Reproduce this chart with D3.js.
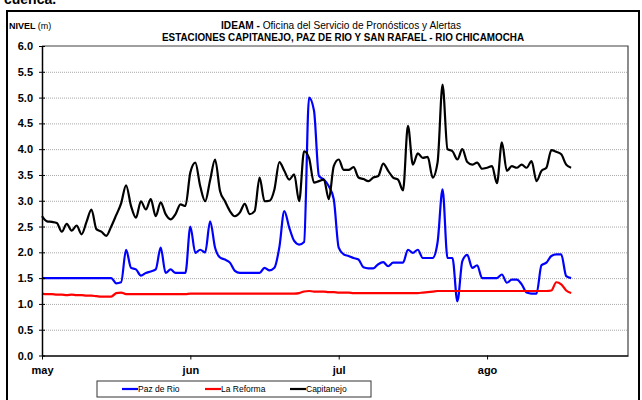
<!DOCTYPE html>
<html>
<head>
<meta charset="utf-8">
<script src="https://cdn.jsdelivr.net/npm/d3@7"></script>
<style>
    body { margin: 0; background: #fff; }
    svg { display: block; font-family: "Liberation Sans Narrow", "Arial Narrow", "Liberation Sans", Arial, sans-serif; }
</style>
</head>
<body>
<svg id="chart" width="642" height="400"></svg>
<script>
// daily levels (m), day 0 = 1 may
const pazDeRio = [
    1.5, 1.5, 1.5, 1.5, 1.5, 1.5, 1.5, 1.5, 1.5, 1.5, 1.5, 1.5, 1.5, 1.5, 1.5,
    1.4, 1.42, 2.05, 1.7, 1.67,
    1.55, 1.6, 1.63, 1.67, 2.09, 1.6, 1.67, 1.6, 1.6, 1.6,
    2.5, 1.99, 2.05, 2.0, 2.6, 2.09, 1.9, 1.86, 1.8, 1.64,
    1.6, 1.6, 1.6, 1.6, 1.6, 1.7, 1.65, 1.7, 2.1, 2.8,
    2.48, 2.22, 2.15, 2.2, 5.0, 4.75, 3.48, 3.41, 3.28, 3.03,
    2.09, 1.96, 1.93, 1.89, 1.86, 1.71, 1.69, 1.69, 1.77, 1.81,
    1.73, 1.8, 1.8, 1.8, 2.05, 1.99, 2.05, 1.89, 1.89, 1.89,
    2.2, 3.22, 1.89, 1.89, 1.05, 1.83, 1.95, 1.7, 1.75, 1.5,
    1.5, 1.5, 1.5, 1.57, 1.41, 1.47, 1.47, 1.38, 1.22, 1.2,
    1.2, 1.75, 1.8, 1.93, 1.96, 1.96, 1.54, 1.5
];
const laReforma = [
    1.2, 1.19, 1.19, 1.18, 1.18, 1.17, 1.18, 1.17, 1.17, 1.16,
    1.16, 1.15, 1.14, 1.14, 1.14, 1.21, 1.22, 1.19, 1.19, 1.19,
    1.19, 1.19, 1.19, 1.19, 1.19, 1.19, 1.19, 1.19, 1.19, 1.19,
    1.2, 1.2, 1.2, 1.2, 1.2, 1.2, 1.2, 1.2, 1.2, 1.2,
    1.2, 1.2, 1.2, 1.2, 1.2, 1.2, 1.2, 1.2, 1.2, 1.2,
    1.2, 1.2, 1.21, 1.24, 1.25, 1.24, 1.24, 1.24, 1.23, 1.23,
    1.22, 1.22, 1.22, 1.21, 1.21, 1.21, 1.21, 1.21, 1.21, 1.21,
    1.21, 1.21, 1.21, 1.21, 1.21, 1.21, 1.21, 1.22, 1.23, 1.24,
    1.25, 1.25, 1.25, 1.25, 1.25, 1.25, 1.25, 1.25, 1.25, 1.25,
    1.25, 1.25, 1.25, 1.25, 1.25, 1.25, 1.25, 1.25, 1.25, 1.25,
    1.25, 1.25, 1.25, 1.26, 1.42, 1.38, 1.26, 1.21
];
const capitanejo = [
    2.7, 2.6, 2.59, 2.57, 2.4, 2.55, 2.42, 2.52, 2.35, 2.59,
    2.83, 2.45, 2.4, 2.32, 2.5, 2.72, 2.95, 3.3, 2.9, 2.67,
    2.99, 2.83, 3.03, 2.7, 2.97, 2.74, 2.64, 2.74, 2.93, 2.9,
    3.55, 3.74, 3.28, 2.99, 3.4, 3.8, 3.19, 2.99, 2.8, 2.7,
    2.77, 2.94, 2.74, 2.8, 3.45, 2.99, 3.0, 3.22, 3.75, 3.58,
    3.41, 3.51, 2.99, 3.96, 3.83, 3.35, 3.38, 3.41, 3.03, 3.67,
    3.8, 3.6, 3.6, 3.65, 3.45, 3.42, 3.38, 3.45, 3.48, 3.72,
    3.58, 3.45, 3.41, 3.2, 4.45, 3.7, 3.92, 3.83, 3.85, 3.45,
    3.75, 5.25, 4.0, 3.96, 3.8, 4.0, 3.75, 3.7, 3.74, 3.62,
    3.64, 3.67, 3.34, 4.13, 3.58, 3.67, 3.64, 3.7, 3.64, 3.77,
    3.38, 3.58, 3.64, 3.98, 3.95, 3.9, 3.7, 3.64
];

const seriesNames = ["Paz de Rio", "La Reforma", "Capitanejo"];
const seriesColors = ["#0000ff", "#ff0000", "#000000"];
const monthTicks = [0, 30, 60, 90];
const monthLabels = ["may", "jun", "jul", "ago"];
const yTicks = [0, 0.5, 1, 1.5, 2, 2.5, 3, 3.5, 4, 4.5, 5, 5.5, 6];

const series = [pazDeRio, laReforma, capitanejo].map((values, i) => ({
    name: seriesNames[i],
    color: seriesColors[i],
    values: values,
}));

const svg = d3.select("#chart");
const plot = { left: 42, right: 628, top: 46, bottom: 355.5 };

const x = d3.scaleLinear().domain([0, 118.5]).range([plot.left, plot.right]);
const y = d3.scaleLinear().domain([0, 6]).range([plot.bottom, plot.top]);

// text from the page above, cut by the picture edge
svg.append("text")
    .attr("x", 4).attr("y", 4)
    .style("font-family", "Arial, 'Liberation Sans', sans-serif")
    .style("font-weight", "bold").style("font-size", "14px")
    .text("cuenca.");

// outer frame
svg.append("rect")
    .attr("x", 7).attr("y", 11)
    .attr("width", 632).attr("height", 400)
    .attr("fill", "none").attr("stroke", "#000").attr("stroke-width", 2);

// titles
const t1 = svg.append("text")
    .attr("x", 341).attr("y", 29)
    .attr("text-anchor", "middle")
    .attr("textLength", 240).attr("lengthAdjust", "spacingAndGlyphs")
    .style("font-size", "10.5px");
t1.append("tspan").style("font-weight", "bold").text("IDEAM - ");
t1.append("tspan").text("Oficina del Servicio de Pronósticos y Alertas");

svg.append("text")
    .attr("x", 343).attr("y", 41)
    .attr("text-anchor", "middle")
    .attr("textLength", 362).attr("lengthAdjust", "spacingAndGlyphs")
    .style("font-size", "10.5px").style("font-weight", "bold")
    .text("ESTACIONES CAPITANEJO, PAZ DE RIO Y SAN RAFAEL - RIO CHICAMOCHA");

const yl = svg.append("text")
    .attr("x", 9).attr("y", 29)
    .style("font-size", "9px");
yl.append("tspan").style("font-weight", "bold").text("NIVEL ");
yl.append("tspan").text("(m)");

// grid
svg.append("g")
    .attr("class", "grid")
    .attr("transform", `translate(${plot.left},0)`)
    .call(d3.axisLeft(y)
        .tickValues(yTicks.filter(d => d > 0 && d < 6))
        .tickFormat("")
        .tickSize(-(plot.right - plot.left)))
    .call(g => g.select(".domain").remove())
    .call(g => g.selectAll("line")
        .attr("stroke", "#a8a8a8")
        .attr("stroke-dasharray", "1,1"));

// plot border top / right
svg.append("path")
    .attr("d", `M${plot.left},${plot.top}H${plot.right}V${plot.bottom}`)
    .attr("fill", "none").attr("stroke", "#404040").attr("stroke-width", 1.2);

// lines
const line = d3.line()
    .x((d, i) => x(i))
    .y(d => y(d))
    .curve(d3.curveMonotoneX);

svg.append("g")
    .selectAll("path")
    .data(series)
    .join("path")
    .attr("d", d => line(d.values))
    .attr("fill", "none")
    .attr("stroke", d => d.color)
    .attr("stroke-width", 2.2)
    .attr("stroke-linejoin", "round");

// y axis
const yAxis = svg.append("g")
    .attr("transform", `translate(${plot.left},0)`)
    .call(d3.axisLeft(y)
        .tickValues(yTicks)
        .tickFormat(d3.format(".1f"))
        .tickSizeInner(3)
        .tickSizeOuter(0)
        .tickPadding(6));
yAxis.select(".domain").attr("stroke", "#000").attr("stroke-width", 1.5);
yAxis.selectAll(".tick line").attr("x2", 3).attr("x1", -3).attr("stroke", "#000");
yAxis.selectAll("text")
    .style("font-family", "Arial, 'Liberation Sans', sans-serif")
    .style("font-size", "11px").style("font-weight", "bold").attr("fill", "#000");

// x axis
const xAxis = svg.append("g")
    .attr("transform", `translate(0,${plot.bottom})`)
    .call(d3.axisBottom(x)
        .tickValues(monthTicks)
        .tickFormat((d, i) => monthLabels[i])
        .tickSizeInner(4)
        .tickSizeOuter(0)
        .tickPadding(7));
xAxis.select(".domain").attr("stroke", "#000").attr("stroke-width", 1.5);
xAxis.selectAll(".tick line").attr("stroke", "#000");
xAxis.selectAll("text")
    .style("font-family", "Arial, 'Liberation Sans', sans-serif")
    .style("font-size", "11px").style("font-weight", "bold").attr("fill", "#000");

// legend
const legendItemX = [122, 205, 290];
const legend = svg.append("g");
legend.append("rect")
    .attr("x", 97).attr("y", 381)
    .attr("width", 274).attr("height", 16)
    .attr("fill", "#fff").attr("stroke", "#333").attr("stroke-width", 1);
const items = legend.selectAll("g.item")
    .data(series)
    .join("g")
    .attr("class", "item")
    .attr("transform", (d, i) => `translate(${legendItemX[i]},389)`);
items.append("line")
    .attr("x1", 0).attr("x2", 16)
    .attr("stroke", d => d.color).attr("stroke-width", 2.2);
items.append("text")
    .attr("x", 16).attr("dy", "0.35em")
    .style("font-size", "8.5px")
    .text(d => d.name);
</script>
</body>
</html>
